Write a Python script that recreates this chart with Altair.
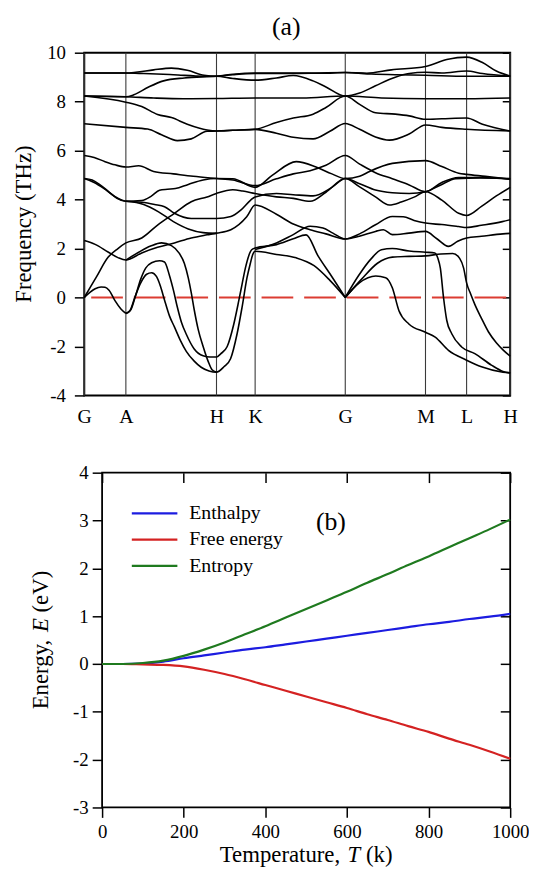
import altair as alt
import pandas as pd

FONT = "Liberation Serif"

# ---------------- panel (a): phonon dispersion ----------------
kpt_labels = ["G", "A", "H", "K", "G", "M", "L", "H"]
kpt_pos = [0, 42, 133.5, 172.5, 263.5, 344.5, 386, 430]
freq_ticks = [-4, -2, 0, 2, 4, 6, 8, 10]

band_hi1 = [(0, 9.17), (42, 9.17), (52, 9.2), (70, 9.3), (88, 9.37), (104, 9.28), (121, 9.08), (133.5, 9.04),
            (150, 9.12), (172.5, 9.17), (211, 9.17), (240, 9.16), (263.5, 9.19), (285, 9.16), (310, 9.3),
            (344.5, 9.44), (366, 9.72), (386, 9.82), (402, 9.6), (416, 9.25), (430, 9.04)]
band_hi2 = [(0, 9.17), (42, 9.17), (60, 9.15), (90, 9.1), (121, 9.04), (133.5, 9.04), (150, 8.95), (172.5, 8.88),
            (194, 8.97), (211, 9.07), (231, 8.85), (244, 8.6), (263.5, 8.23), (278, 8.35), (294, 8.65), (314, 9.0),
            (328, 9.15), (344.5, 9.2), (361, 9.17), (386, 9.25), (402, 9.15), (430, 9.04)]
band_hi3 = [(0, 8.23), (42, 8.2), (50, 8.28), (65, 8.6), (80, 8.85), (101, 8.97), (133.5, 9.04), (150, 9.1),
            (172.5, 9.15), (211, 9.15), (263.5, 9.19), (290, 9.13), (314, 9.1), (344.5, 9.08), (386, 9.04), (430, 9.04)]
band_flat = [(0, 8.23), (42, 8.2), (70, 8.15), (100, 8.12), (133.5, 8.13), (172.5, 8.15), (220, 8.15), (263.5, 8.23),
             (300, 8.15), (344.5, 8.12), (386, 8.12), (430, 8.15)]
band_hi4 = [(0, 8.23), (42, 7.98), (58, 7.8), (74, 7.48), (88, 7.35), (104, 7.08), (124, 6.84), (133.5, 6.8),
            (150, 6.83), (172.5, 6.87), (194, 7.15), (211, 7.33), (231, 7.49), (244, 7.76), (263.5, 8.23), (278, 7.89),
            (294, 7.55), (314, 7.49), (328, 7.42), (344.5, 7.28), (361, 7.3), (386, 7.33), (402, 7.08), (430, 6.8)]
band_hi5 = [(0, 7.1), (42, 6.95), (64, 6.88), (78, 6.65), (94, 6.41), (108, 6.48), (124, 6.79), (133.5, 6.8),
            (150, 6.83), (172.5, 6.87), (194, 6.71), (211, 6.55), (231, 6.48), (248, 6.79), (263.5, 7.11), (278, 6.87),
            (294, 6.56), (308, 6.43), (328, 6.68), (344.5, 7.05), (361, 6.95), (386, 6.87), (430, 6.8)]
band_m1 = [(0, 5.8), (10, 5.72), (21, 5.55), (31, 5.42), (42, 5.33), (55, 5.38), (70, 5.15), (90, 5.05), (110, 4.95),
           (133.5, 4.86), (150, 4.8), (172.5, 4.57), (194, 4.85), (211, 5.05), (228, 5.18), (244, 5.4), (263.5, 5.8),
           (278, 5.45), (294, 5.1), (311, 4.85), (328, 4.6), (344.5, 4.32), (361, 4.7), (378, 4.9), (400, 4.9),
           (430, 4.83)]
band_m2 = [(0, 4.86), (8, 4.8), (16, 4.6), (24, 4.35), (33, 4.05), (42, 3.93), (58, 3.96), (68, 4.15), (76, 4.38),
           (84, 4.42), (92, 4.45), (105, 4.62), (120, 4.8), (133.5, 4.86), (150, 4.85), (172.5, 4.5),
           (190, 5.0), (214, 5.55), (234, 5.33), (250, 5.05), (263.5, 4.86), (278, 4.95), (288, 5.15), (311, 5.48),
           (344.5, 5.59), (361, 5.35), (378, 5.08), (386, 5.03), (405, 4.95), (430, 4.83)]
band_m3 = [(0, 4.86), (10, 4.7), (20, 4.45), (30, 4.15), (42, 3.93), (58, 3.89), (71, 3.8), (81, 3.71), (91, 3.44),
           (108, 3.23), (133.5, 3.23), (148, 3.31), (158, 3.57), (168, 3.98), (172.5, 4.11), (194, 4.25), (211, 4.2),
           (231, 4.15), (250, 4.5), (263.5, 4.86), (278, 4.52), (294, 4.11), (308, 3.78), (320, 3.9), (333, 4.1),
           (344.5, 4.32), (361, 3.98), (378, 3.44), (386, 3.35), (401, 3.72), (416, 4.15), (430, 4.5)]
band_m4 = [(0, 0), (12, 0.82), (24, 1.64), (34, 2.0), (42, 2.23), (58, 2.43), (74, 2.96), (91, 3.44), (108, 3.91),
           (124, 4.11), (133.5, 4.25), (150, 4.4), (160, 4.35), (172.5, 4.25), (194, 4.11), (211, 4.05), (228, 3.93),
           (244, 4.3), (263.5, 4.86), (278, 4.65), (294, 4.39), (311, 4.28), (328, 4.25), (344.5, 4.32), (360, 4.6),
           (375, 4.85), (400, 4.88), (430, 4.86)]
band_m5 = [(0, 2.33), (11, 2.17), (24, 1.86), (34, 1.63), (42, 1.53), (58, 1.82), (74, 2.05), (91, 2.23), (108, 2.43),
           (124, 2.56), (133.5, 2.63), (148, 2.77), (164, 3.3), (172.5, 3.78), (194, 3.4), (211, 3.0), (228, 2.77),
           (244, 2.6), (263.5, 2.39), (278, 2.6), (294, 2.97), (311, 3.31), (322, 3.3), (333, 3.15), (344.5, 3.04),
           (361, 2.98), (378, 2.9), (386, 2.86), (401, 2.95), (422, 3.1), (430, 3.18)]
band_m6 = [(42, 3.93), (60, 3.8), (75, 3.5), (90, 3.1), (105, 2.8), (120, 2.65), (133.5, 2.62)]
band_m7 = [(172.5, 1.96), (194, 2.23), (211, 2.57), (228, 2.91), (241, 2.84), (251, 2.63), (263.5, 2.39), (277.7, 2.5),
           (294, 2.7), (302, 2.77), (311, 2.57), (327.7, 2.63), (344.5, 2.7), (356, 2.4), (367.7, 2.09), (377, 2.3),
           (386, 2.43), (401, 2.5), (422.7, 2.6), (430, 2.62)]
band_ta = [(0, 0), (6, 0.22), (11, 0.36), (17, 0.43), (21, 0.42), (25, 0.3), (31, -0.13), (37, -0.47), (42, -0.65)]
band_arcA = [(42, -0.65), (46, -0.55), (51, 0.0), (57, 0.6), (63, 0.95), (68, 1.01), (73, 0.85), (77, 0.45),
             (81, -0.1), (86, -0.75), (91, -1.2), (97, -1.75), (103, -2.2), (111, -2.6), (118, -2.85), (126, -3.0),
             (133.5, -3.05), (141, -2.83), (147.7, -2.5), (154.3, -1.48), (159.3, -0.4), (164.3, 0.81), (167.7, 1.4),
             (170, 1.75), (172.5, 1.89), (194, 1.76), (214, 1.62), (232, 1.3), (248, 0.7), (263.5, 0)]
band_arcB = [(42, -0.65), (47, -0.5), (52, 0.1), (57, 0.75), (62, 1.2), (68, 1.42), (76, 1.5), (81, 1.45), (86, 0.9),
             (90, 0.3), (94, -0.4), (98, -1.0), (103, -1.5), (111, -2.1), (120, -2.38), (127, -2.43), (133.5, -2.43),
             (137.7, -2.3), (144.3, -2.0), (151, -1.08), (156, -0.13), (159.3, 0.54), (162.7, 1.21), (166, 1.7),
             (169, 1.95), (172.5, 2.02), (194, 2.16), (211, 2.4), (224, 2.56), (236, 1.7), (250, 0.85), (263.5, 0)]
band_arcC = [(42, 1.53), (55, 1.85), (67, 2.1), (78, 2.23), (88, 2.12), (96, 1.8), (101, 1.4), (105, 0.8), (108, 0.2),
             (111, -0.5), (115, -1.3), (120, -2.0), (125, -2.6), (129, -2.95), (133.5, -3.05)]
band_d1 = [(263.5, 0), (277.7, 0.6), (294.3, 0.88), (304.3, 0.81), (311, 0.4), (317.7, -0.54), (327.7, -1.08),
           (344.5, -1.42), (354.3, -1.62), (367.7, -2.16), (386, -2.56), (401, -2.83), (422.7, -3.05), (430, -3.08)]
band_d2 = [(263.5, 0), (277, 0.9), (290, 1.6), (300, 1.95), (311, 2.0), (328, 1.9), (344.5, 1.85), (354, 1.82),
           (357, 1.6), (359.5, 1.2), (362.7, 0), (366, -0.94), (371, -1.48), (381, -2.02), (394.3, -2.29),
           (411, -2.76), (422.7, -3.02), (430, -3.08)]
band_d3 = [(263.5, 0), (280, 0.75), (296, 1.4), (311, 1.65), (328, 1.68), (344.5, 1.7), (360, 1.78), (372, 1.8),
           (379, 1.6), (383, 1.2), (386, 0.6), (390, 0.15), (394.5, -0.3), (401, -0.85), (408, -1.4), (416, -1.85),
           (423, -2.15), (430, -2.4)]

# ---------------- panel (b): thermodynamics ----------------
temps = [0, 50, 100, 150, 200, 250, 300, 350, 400, 450, 500, 550, 600, 650, 700, 750, 800, 850, 900, 950, 1000]
enthalpy = [0.00, 0.00, 0.01, 0.05, 0.12, 0.18, 0.24, 0.30, 0.35, 0.41, 0.47, 0.53, 0.59, 0.65, 0.71, 0.77, 0.83,
            0.88, 0.94, 0.99, 1.05]
free_energy = [0.00, 0.00, -0.01, -0.02, -0.05, -0.12, -0.21, -0.32, -0.44, -0.56, -0.68, -0.80, -0.92, -1.05,
               -1.17, -1.30, -1.42, -1.56, -1.69, -1.83, -1.98]
entropy = [0.00, 0.00, 0.02, 0.07, 0.17, 0.30, 0.45, 0.62, 0.79, 0.97, 1.15, 1.33, 1.51, 1.70, 1.88, 2.07, 2.25,
           2.44, 2.63, 2.82, 3.02]
series_names = ["Enthalpy", "Free energy", "Entropy"]
series_colors = ["#1c1ce0", "#d42222", "#1f7a1f"]
temp_ticks = [0, 200, 400, 600, 800, 1000]
energy_ticks = [-3, -2, -1, 0, 1, 2, 3, 4]

# ---------------- tables ----------------
band_list = [("hi1", band_hi1), ("hi2", band_hi2), ("hi3", band_hi3), ("flat", band_flat), ("hi4", band_hi4),
             ("hi5", band_hi5), ("m1", band_m1), ("m2", band_m2), ("m3", band_m3), ("m4", band_m4),
             ("m5", band_m5), ("m6", band_m6), ("m7", band_m7), ("ta", band_ta), ("arcA", band_arcA),
             ("arcB", band_arcB), ("arcC", band_arcC), ("d1", band_d1), ("d2", band_d2), ("d3", band_d3)]
rows = []
for name, pts in band_list:
    for i, (k, f) in enumerate(pts):
        rows.append({"curve": name, "i": i, "k": k, "f": f})
band_df = pd.DataFrame(rows)
kpt_df = pd.DataFrame({"k": kpt_pos, "label": kpt_labels})
zero_df = pd.DataFrame({"f": [0]})

erows = []
for name, vals in zip(series_names, [enthalpy, free_energy, entropy]):
    for t, v in zip(temps, vals):
        erows.append({"series": name, "T": t, "E": v})
energy_df = pd.DataFrame(erows)
one_row = pd.DataFrame({"t": ["x"]})


def label_mark(txt, x, y, size, angle=0, align="center", style="normal", opacity=1):
    return alt.Chart(pd.DataFrame({"t": [txt]})).mark_text(
        font=FONT, fontSize=size, angle=angle, align=align, baseline="middle",
        fontStyle=style, color="black", opacity=opacity
    ).encode(text="t:N", x=alt.value(x), y=alt.value(y))


NUM = "datum.value + ''"

# ---------------- panel (a) ----------------
W_A, H_A = 430, 346
k_scale = alt.Scale(domain=[0, 430], nice=False, zero=False)
f_scale = alt.Scale(domain=[-4, 10], nice=False, zero=False)
label_expr = " : ".join(f"datum.value == {p} ? '{l}'" for p, l in zip(kpt_pos, kpt_labels)) + " : ''"
k_axis = alt.Axis(values=kpt_pos, labelExpr=label_expr, title=None, ticks=False, domain=False, grid=False,
                  labelFont=FONT, labelFontSize=20, labelColor="black", labelPadding=11,
                  labelFlush=False, labelOverlap=False)
f_axis_left = alt.Axis(values=freq_ticks, labelExpr=NUM, title=None, tickSize=10, tickWidth=1.5, tickColor="black",
                       domain=False, grid=False, labelFont=FONT, labelFontSize=19, labelColor="black",
                       labelPadding=9, labelFlush=False, labelOverlap=False)
f_axis_right = alt.Axis(orient="right", values=freq_ticks, title=None, labels=False, tickSize=8, offset=-8,
                        tickWidth=1.5, tickColor="black", domain=False, grid=False)

kpt_rules = alt.Chart(kpt_df).mark_rule(color="#3a3a3a", strokeWidth=1.1).encode(
    x=alt.X("k:Q", scale=k_scale, axis=k_axis))
zero_line = alt.Chart(zero_df).mark_rule(color="#dc3c32", strokeWidth=2.2, strokeDash=[32, 11],
                                         strokeDashOffset=-4).encode(
    y=alt.Y("f:Q", scale=f_scale, axis=f_axis_right))
band_lines = alt.Chart(band_df).mark_line(color="black", strokeWidth=1.6, interpolate="monotone").encode(
    x=alt.X("k:Q", scale=k_scale, axis=k_axis),
    y=alt.Y("f:Q", scale=f_scale, axis=f_axis_left),
    detail="curve:N", order="i:Q")

panel_a = alt.layer(
    kpt_rules, zero_line, band_lines,
    label_mark("Frequency (THz)", -61, 173, 23, angle=270),
    label_mark("(a)", 204, -26, 26),
    label_mark(".", -76, 173, 10, align="left", opacity=0),
).resolve_axis(y="independent").properties(
    width=W_A, height=H_A, view=alt.ViewBackground(stroke="black", strokeWidth=2))

# ---------------- panel (b) ----------------
# the view starts at the same x as panel (a); the plotted frame is inset by B_INSET px
B_INSET = 18
W_B, H_B = 430, 338
T_scale = alt.Scale(domain=[0, 1000], nice=False, zero=False, range=[B_INSET, W_B])
E_scale = alt.Scale(domain=[-3, 4], nice=False, zero=False)
T_axis = alt.Axis(values=temp_ticks, labelExpr=NUM, title=None, tickSize=10, tickWidth=1.5, tickColor="black",
                  domain=False, grid=False, labelFont=FONT, labelFontSize=19, labelColor="black", labelPadding=5,
                  labelFlush=False, labelOverlap=False)
T_axis_top = alt.Axis(orient="top", values=temp_ticks, labels=False, title=None, tickSize=10, offset=-10,
                      tickWidth=1.5, tickColor="black", domain=False, grid=False)
E_axis = alt.Axis(values=energy_ticks, labelExpr=NUM, title=None, tickSize=10, offset=-B_INSET, tickWidth=1.5,
                  tickColor="black", domain=False, grid=False, labelFont=FONT, labelFontSize=19, labelColor="black",
                  labelPadding=4, labelFlush=False, labelOverlap=False)
E_axis_right = alt.Axis(orient="right", values=energy_ticks, labels=False, title=None, tickSize=10, offset=-10,
                        tickWidth=1.5, tickColor="black", domain=False, grid=False)

frame_b = alt.Chart(one_row).mark_rect(fillOpacity=0, stroke="black", strokeWidth=1.8).encode(
    x=alt.value(B_INSET), x2=alt.value(W_B), y=alt.value(0), y2=alt.value(H_B))
lines_b = alt.Chart(energy_df).mark_line(strokeWidth=2.2, interpolate="monotone").encode(
    x=alt.X("T:Q", scale=T_scale, axis=T_axis),
    y=alt.Y("E:Q", scale=E_scale, axis=E_axis),
    color=alt.Color("series:N", scale=alt.Scale(domain=series_names, range=series_colors), legend=None))
mirror_b = alt.Chart(pd.DataFrame({"T": [0], "E": [0]})).mark_point(opacity=0).encode(
    x=alt.X("T:Q", scale=T_scale, axis=T_axis_top),
    y=alt.Y("E:Q", scale=E_scale, axis=E_axis_right))

legend_layers = []
for i, (name, col) in enumerate(zip(series_names, series_colors)):
    ly = 41 + 26.5 * i
    legend_layers.append(alt.Chart(one_row).mark_rule(color=col, strokeWidth=2.2).encode(
        x=alt.value(48), x2=alt.value(94), y=alt.value(ly)))
    legend_layers.append(label_mark(name, 106, ly, 20, align="left"))

# italic symbols in axis titles: pieces laid end to end (Times metrics, 23px)
xt_y = 386
xt_x0 = B_INSET + (W_B - B_INSET) / 2 - 87.2
yt_x = B_INSET - 62
yt_y0 = H_B / 2 + 69.9

panel_b = alt.layer(
    frame_b, lines_b, mirror_b, *legend_layers,
    label_mark("(b)", 249, 50, 26),
    label_mark("Temperature,", xt_x0, xt_y, 23, align="left"),
    label_mark("T", xt_x0 + 129.05, xt_y, 23, align="left", style="italic"),
    label_mark("(k)", xt_x0 + 147.6, xt_y, 23, align="left"),
    label_mark("Energy,", yt_x, yt_y0, 23, angle=270, align="left"),
    label_mark("E", yt_x, yt_y0 - 77.95, 23, angle=270, align="left", style="italic"),
    label_mark("(eV)", yt_x, yt_y0 - 97.75, 23, angle=270, align="left"),
).resolve_axis(x="independent", y="independent").properties(
    width=W_B, height=H_B, view=alt.ViewBackground(stroke=None))

chart = alt.vconcat(panel_a, panel_b, spacing=37).properties(
    padding={"left": 0, "top": 1, "right": 0, "bottom": 0})

chart.save("out.html", embed_options={"renderer": "svg", "actions": False})
